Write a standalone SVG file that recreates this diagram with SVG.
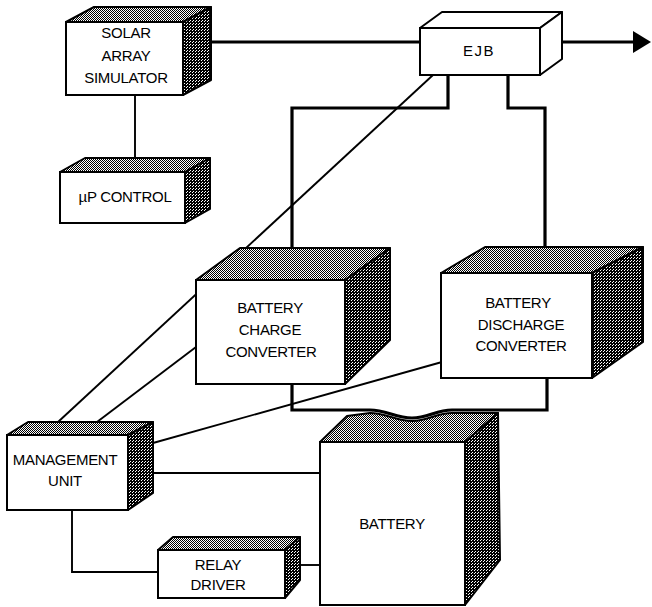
<svg xmlns="http://www.w3.org/2000/svg" width="652" height="607" viewBox="0 0 652 607">
<style>
  .front{fill:#fff;stroke:#000;stroke-width:2}
  .top{fill:url(#half);stroke:#000;stroke-width:2;stroke-linejoin:round}
  .side{fill:url(#dark);stroke:#000;stroke-width:2;stroke-linejoin:round}
  .lbl{font-family:"Liberation Sans",Arial,sans-serif;font-size:15px;fill:#000;text-anchor:middle;letter-spacing:-0.3px}
  .thick{fill:none;stroke:#000;stroke-width:3.2;stroke-linejoin:miter}
  .thin{fill:none;stroke:#000;stroke-width:1.9}
</style>
<defs>
  <pattern id="half" width="2" height="2" patternUnits="userSpaceOnUse">
    <rect width="2" height="2" fill="#fff"/>
    <rect width="1" height="1" fill="#000"/>
    <rect x="1" y="1" width="1" height="1" fill="#000"/>
  </pattern>
  <pattern id="dark" width="3" height="3" patternUnits="userSpaceOnUse">
    <rect width="3" height="3" fill="#000"/>
    <rect width="1" height="1" fill="#fff"/>
    <rect x="1" y="2" width="1" height="1" fill="#fff"/>
  </pattern>
</defs>
<rect width="652" height="607" fill="#fff"/>

<g id="connectors">
  <line class="thick" x1="198" y1="42" x2="420" y2="42"/>
  <polygon points="192,42 201,37 201,47" fill="#000"/>
  <line class="thick" x1="548" y1="42" x2="634" y2="42"/>
  <polygon points="633,31 651,42 633,53" fill="#000"/>
  <line class="thin" x1="135" y1="95" x2="135" y2="158"/>
  <polyline class="thick" points="448,75 448,108 292,108 292,250"/>
  <polyline class="thick" points="508,75 508,108 545,108 545,249"/>
  <line class="thin" x1="433" y1="75" x2="58" y2="422"/>
  <line class="thin" x1="196" y1="347" x2="97" y2="422"/>
  <line class="thin" x1="442" y1="362" x2="153" y2="443"/>
  <line class="thin" x1="153" y1="473" x2="320" y2="473"/>
  <polyline class="thin" points="72,510 72,572 158,572"/>
  <line class="thin" x1="300" y1="565" x2="320" y2="565"/>
  <path class="thick" d="M292,384 V410 H370 C386,410 396,418 412,418 C428,418 436,410 452,410 H547 V378"/>
</g>

<g id="solar-array-simulator">
  <polygon class="top" points="66,22 94,7 211,7 183,22"/>
  <polygon class="side" points="183,22 211,7 211,80 183,95"/>
  <rect class="front" x="66" y="22" width="117" height="73"/>
  <text class="lbl" x="126" y="38">SOLAR</text>
  <text class="lbl" x="126" y="61">ARRAY</text>
  <text class="lbl" x="126" y="83">SIMULATOR</text>
</g>

<g id="up-control">
  <polygon class="top" points="60,172 85,158 210,158 185,172"/>
  <polygon class="side" points="185,172 210,158 210,209 185,223"/>
  <rect class="front" x="60" y="172" width="125" height="51"/>
  <text class="lbl" x="125" y="202">µP CONTROL</text>
</g>

<g id="ejb">
  <polygon class="top" points="420,28 442,12 562,12 540,28" style="fill:#fff"/>
  <polygon class="side" points="540,28 562,12 562,59 540,75" style="fill:#fff"/>
  <rect class="front" x="420" y="28" width="120" height="47"/>
  <text class="lbl" x="479" y="56" style="letter-spacing:1.5px">EJB</text>
</g>

<g id="battery-charge-converter">
  <polygon class="top" points="196,280 240,248 390,248 345,280"/>
  <polygon class="side" points="345,280 390,248 390,340 345,384"/>
  <rect class="front" x="196" y="280" width="149" height="104"/>
  <text class="lbl" x="270" y="313">BATTERY</text>
  <text class="lbl" x="270" y="335">CHARGE</text>
  <text class="lbl" x="271" y="357">CONVERTER</text>
</g>

<g id="battery-discharge-converter">
  <polygon class="top" points="441,273 485,247 643,247 592,273"/>
  <polygon class="side" points="592,273 643,247 643,342 592,378"/>
  <rect class="front" x="441" y="273" width="151" height="105"/>
  <text class="lbl" x="518" y="308">BATTERY</text>
  <text class="lbl" x="521" y="330">DISCHARGE</text>
  <text class="lbl" x="521" y="351">CONVERTER</text>
</g>

<g id="management-unit">
  <polygon class="top" points="7,435 28,422 153,422 128,435"/>
  <polygon class="side" points="128,435 153,422 153,493 128,510"/>
  <rect class="front" x="7" y="435" width="121" height="75"/>
  <text class="lbl" x="65" y="465">MANAGEMENT</text>
  <text class="lbl" x="65" y="486">UNIT</text>
</g>

<g id="relay-driver">
  <polygon class="top" points="158,550 173,537 300,537 285,550"/>
  <polygon class="side" points="285,550 300,537 300,580 285,598"/>
  <rect class="front" x="158" y="550" width="127" height="48"/>
  <text class="lbl" x="218" y="570">RELAY</text>
  <text class="lbl" x="218" y="590">DRIVER</text>
</g>

<g id="battery">
  <path class="top" d="M320,442 L347,416 L370,413 C386,413 396,421 412,421 C428,421 436,413 452,413 L498,413 L465,442 Z"/>
  <polygon class="side" points="465,442 498,413 500,560 465,605"/>
  <rect class="front" x="320" y="442" width="145" height="163"/>
  <text class="lbl" x="392" y="529">BATTERY</text>
</g>
</svg>
